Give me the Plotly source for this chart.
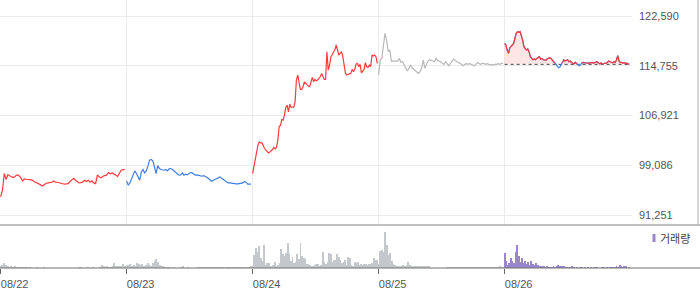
import numpy as np
import plotly.graph_objects as go

# ---------------- data ----------------
day_labels = ["08/22", "08/23", "08/24", "08/25", "08/26"]
y_ticks = [91251, 99086, 106921, 114755, 122590]
prev_close_0826 = 114975

price_0822 = [94100, 95150, 97780, 96830, 97620, 97360, 97250, 97150, 97410, 97570, 97460, 97150,
              96620, 96940, 96880, 96830, 96880, 96780, 96620, 96360, 96310, 96150, 95990, 95830,
              96040, 96250, 96310, 96360, 96410, 96620, 96410, 96410, 96310, 96310, 96100, 96100,
              96150, 96200, 96520, 96730, 97040, 96730, 96520, 96310, 96360, 96460, 96730, 96520,
              96730, 96410, 96620, 96310, 96200, 97570, 97250, 97100, 97360, 97410, 97520, 97940,
              97730, 97880, 97780, 97570, 97300, 97780, 98300, 98410, 98410]
price_0823 = [96620, 95940, 96310, 96990, 97520, 98200, 97780, 97150, 96730, 98040, 98410, 97880,
              98200, 98940, 99880, 99990, 99780, 98830, 97780, 99040, 98570, 98410, 98300, 98300,
              98410, 98200, 98510, 98570, 98410, 98200, 97880, 97670, 97520, 97570, 97880, 97520,
              97670, 97570, 97780, 97940, 97880, 97620, 97520, 97570, 97460, 97460, 97360, 97460,
              97360, 97200, 96990, 96730, 96570, 96730, 96830, 96940, 97100, 97250, 97040, 96830,
              96620, 96410, 96310, 96310, 96250, 96200, 96150, 96150, 96150, 96200, 96310, 96310,
              96520, 96410, 96100, 96100, 96100]
price_0824 = [97780, 98830, 100400, 101460, 102250, 102770, 102610, 102610, 102090, 101720, 101460,
              101190, 101040, 101190, 101350, 101560, 101880, 101670, 101880, 103030, 105140, 105400,
              106290, 106190, 106980, 108190, 108550, 107500, 108710, 108190, 108290, 108190, 109080,
              112500, 113290, 111970, 111030, 111030, 111450, 112230, 111970, 111710, 111550, 111450,
              112230, 112920, 112230, 112600, 112390, 112500, 112760, 113020, 113550, 113020, 112600,
              112600, 116970, 114070, 114860, 116180, 116440, 116970, 117230, 118020, 117120, 116440,
              116700, 116970, 116180, 115130, 113550, 113290, 113390, 113440, 113550, 114180, 113810,
              114180, 115020, 115130, 114600, 114970, 113650, 113920, 114180, 115230, 114600, 114490,
              114860, 114600, 116440, 116280, 116440, 116180, 115130]
price_0825 = [113290, 115650, 115910, 118020, 119860, 118810, 116970, 117230, 115490, 115490, 115490,
              115390, 115490, 115910, 115280, 115390, 114970, 114340, 113920, 114340, 114860, 114440,
              114230, 114020, 113810, 113550, 113810, 114440, 115650, 114340, 114970, 115490, 115700,
              115600, 115490, 115390, 115910, 115600, 115490, 115280, 115130, 114970, 115390, 114970,
              114760, 115130, 115490, 115810, 115600, 115490, 115280, 115130, 114970, 114760, 114970,
              115070, 114970, 115130, 114970, 114860, 114760, 114970, 115280, 115130, 114970, 115130,
              115130, 114970, 115070, 114970, 114860, 114970, 114860, 115020, 114970, 115070, 114970,
              115130, 115130]
price_0826 = [118280, 118020, 117230, 116700, 117600, 117910, 118020, 118280, 119070, 119860, 120120,
              120020, 120120, 119590, 118810, 117750, 117490, 117230, 117390, 116970, 116180, 115910,
              115700, 115810, 115700, 115910, 116020, 116180, 115810, 115910, 115700, 115700, 115600,
              115810, 115910, 116020, 115910, 115700, 115490, 115180, 114970, 114650, 114440, 114550,
              114860, 115280, 115700, 115490, 115600, 115700, 115390, 115490, 115280, 115180, 115070,
              115280, 115070, 114970, 114760, 114860, 115180, 115280, 115230, 115180, 115230, 115180,
              115180, 115280, 115280, 115180, 115280, 115280, 115390, 115180, 115070, 115180, 115020,
              115070, 115180, 115130, 115390, 115490, 115390, 115280, 115230, 115390, 115280, 115700,
              116330, 115490, 115280, 115280, 115180, 115230, 115130, 115180, 115020, 115020]

vol_0822 = [6, 10, 15, 10, 5, 3, 4, 3, 4, 3, 3, 3, 3, 2, 3, 2, 0, 2, 0, 0, 0, 2, 0, 0, 0, 2, 0, 0,
            0, 0, 0, 0, 0, 0, 0, 0, 0, 0, 0, 0, 0, 0, 0, 0, 0, 2, 2, 0, 0, 0, 1, 0, 0, 2, 0, 0,
            0, 2, 8, 4, 3, 5, 3, 3, 5, 14, 5, 4, 4, 6, 13, 6]
vol_0823 = [10, 8, 12, 5, 8, 5, 15, 12, 10, 12, 5, 10, 15, 8, 5, 14, 22, 28, 18, 8, 5, 4, 3, 3,
            2, 2, 0, 2, 0, 0, 0, 3, 4, 0, 0, 2, 0, 0, 0, 0, 0, 2, 2, 3, 2, 2, 3, 3, 2, 2, 2, 2,
            2, 3, 2, 2, 0, 3, 2, 2, 2, 3, 2, 2, 2, 3, 2, 2, 0, 3, 2, 5]
vol_0824 = [5, 40, 61, 47, 67, 31, 22, 70, 10, 14, 15, 5, 5, 10, 19, 5, 9, 15, 57, 43, 37, 44, 76,
            42, 22, 34, 15, 17, 43, 27, 76, 37, 31, 27, 13, 13, 10, 5, 7, 10, 13, 13, 7, 10, 49,
            17, 12, 17, 45, 43, 17, 25, 23, 43, 32, 23, 15, 17, 23, 10, 33, 31, 10, 7, 17, 14, 17,
            9, 13, 9, 13, 13, 9, 13, 13, 15, 31, 23, 23]
vol_0825 = [12, 50, 54, 48, 109, 70, 40, 45, 20, 12, 8, 6, 5, 6, 5, 8, 6, 10, 18, 8, 6, 5, 5, 5,
            5, 4, 6, 5, 5, 4, 5, 6, 0, 0, 0, 0, 0, 0, 0, 0, 0, 0, 3, 3, 3, 2, 3, 3, 2, 2, 3, 3,
            3, 3, 2, 3, 3, 3, 3, 3, 3, 3, 3, 3, 3, 3, 3, 3, 3, 3, 3, 3, 3, 3, 6, 3, 3]
vol_0826 = [45, 22, 10, 15, 30, 20, 15, 48, 70, 35, 18, 30, 15, 22, 12, 18, 10, 20, 12, 8, 15, 8,
            5, 5, 5, 4, 3, 4, 3, 3, 3, 4, 3, 5, 8, 6, 5, 4, 6, 3, 3, 3, 3, 4, 3, 0, 3, 0, 2, 2,
            0, 3, 0, 3, 0, 2, 0, 3, 3, 2, 0, 0, 2, 3, 0, 3, 0, 3, 3, 3, 2, 4, 3, 10, 5, 3, 5, 4,
            0, 3]

# ---------------- styling ----------------
RED = "#ff3b3b"
BLUE = "#3d7fe0"
GRAY_LINE = "#b8b8b8"
VOL_GRAY = "#c4c7cb"
VOL_PURPLE = "#9a86cc"
GRID = "#ebebeb"

W, H = 700, 289
PLOT_R = 632          # right edge of plot area (px)
VOL_BOTTOM = 268      # baseline of volume panel (px)
MAIN_BOTTOM = 225     # bottom of price panel (px)
VOL_TOP = 226

prices = [price_0822, price_0823, price_0824, price_0825, price_0826]
vols = [vol_0822, vol_0823, vol_0824, vol_0825, vol_0826]
day_colors = [RED, BLUE, RED, GRAY_LINE, None]


def day_x(d, n):
    return d + np.arange(n) / n


fig = go.Figure()

# price lines days 1-4
for d in range(4):
    v = prices[d]
    fig.add_trace(go.Scatter(x=day_x(d, len(v)), y=v, mode="lines",
                             line=dict(color=day_colors[d], width=1.2),
                             xaxis="x", yaxis="y", showlegend=False, hoverinfo="skip"))

# day 5: fill vs previous close, red above / blue below
v5 = np.array(price_0826, dtype=float)
x5 = day_x(4, len(v5))
ref = np.full(len(v5), prev_close_0826, dtype=float)
fig.add_trace(go.Scatter(x=x5, y=ref, mode="lines", line=dict(width=0, color="rgba(0,0,0,0)"),
                         xaxis="x", yaxis="y", showlegend=False, hoverinfo="skip"))
fig.add_trace(go.Scatter(x=x5, y=np.maximum(v5, ref), mode="lines", fill="tonexty",
                         fillcolor="rgba(255,80,80,0.14)", line=dict(width=0, color="rgba(0,0,0,0)"),
                         xaxis="x", yaxis="y", showlegend=False, hoverinfo="skip"))
fig.add_trace(go.Scatter(x=[x5[0], x5[-1] + 1 / len(v5)], y=[prev_close_0826, prev_close_0826],
                         mode="lines", line=dict(color="#444444", width=1, dash="dot"),
                         xaxis="x", yaxis="y", showlegend=False, hoverinfo="skip"))
fig.add_trace(go.Scatter(x=x5, y=v5, mode="lines", line=dict(color=BLUE, width=1.2),
                         xaxis="x", yaxis="y", showlegend=False, hoverinfo="skip"))
red5 = np.where(v5 >= prev_close_0826, v5, np.nan)
fig.add_trace(go.Scatter(x=x5, y=red5, mode="lines", line=dict(color=RED, width=1.2),
                         connectgaps=False, xaxis="x", yaxis="y", showlegend=False, hoverinfo="skip"))

# volume bars
bar_w = 0.9 / 126
gx, gy = [], []
for d in range(4):
    gx.extend(day_x(d, len(vols[d])))
    gy.extend(vols[d])
fig.add_trace(go.Bar(x=gx, y=gy, width=bar_w, marker=dict(color=VOL_GRAY, line=dict(width=0)),
                     xaxis="x2", yaxis="y2", showlegend=False, hoverinfo="skip"))
fig.add_trace(go.Bar(x=day_x(4, len(vol_0826)), y=vol_0826, width=bar_w,
                     marker=dict(color=VOL_PURPLE, line=dict(width=0)),
                     xaxis="x2", yaxis="y2", showlegend=False, hoverinfo="skip"))

plot_h = VOL_BOTTOM
main_dom = [(VOL_BOTTOM - MAIN_BOTTOM) / plot_h, 1]
vol_dom = [0, (VOL_BOTTOM - VOL_TOP) / plot_h]
xr = [-0.005, -0.005 + PLOT_R / 126]

# y range so that 122590 sits at px 16 and 91251 at px ~215
px_per_unit = (215 - 16) / (122590 - 91251)
y_top = 122590 + 16 / px_per_unit
y_bot = 122590 - (MAIN_BOTTOM - 16) / px_per_unit

tickfont = dict(family="Liberation Sans, Arial, sans-serif", size=11, color="#555555")

fig.update_layout(
    width=W, height=H,
    margin=dict(l=0, r=W - PLOT_R, t=0, b=H - VOL_BOTTOM),
    paper_bgcolor="white", plot_bgcolor="white",
    showlegend=False, hovermode=False, bargap=0,
    xaxis=dict(domain=[0, 1], range=xr, anchor="y", tickvals=list(range(5)),
               showticklabels=False, showgrid=True, gridcolor=GRID, gridwidth=1,
               zeroline=False, showline=False, ticks=""),
    yaxis=dict(domain=main_dom, range=[y_bot, y_top], side="right", tickvals=y_ticks,
               tickformat=",", showgrid=True, gridcolor=GRID, gridwidth=1, zeroline=False,
               showline=False, ticks="", tickfont=tickfont, ticklabelstandoff=6),
    xaxis2=dict(domain=[0, 1], range=xr, anchor="y2", matches="x", tickvals=list(range(5)),
                ticktext=day_labels, ticks="outside", ticklen=5, tickwidth=1, tickcolor="#666666",
                showgrid=False, zeroline=False, showline=False, tickfont=tickfont,
                ticklabelshift=14, ticklabelstandoff=1),
    yaxis2=dict(domain=vol_dom, range=[0, 126], visible=False, fixedrange=True),
)

# frame lines
main_sep = (VOL_BOTTOM - MAIN_BOTTOM) / plot_h
fig.add_shape(type="line", xref="paper", yref="paper", x0=0, x1=W / PLOT_R, y0=main_sep, y1=main_sep,
              line=dict(color="#808080", width=1))
fig.add_shape(type="line", xref="paper", yref="paper", x0=0, x1=W / PLOT_R, y0=0, y1=0,
              line=dict(color="#707070", width=1))
fig.add_shape(type="line", xref="paper", yref="paper", x0=698 / PLOT_R, x1=698 / PLOT_R,
              y0=main_sep, y1=1, line=dict(color="#b0b0b0", width=1))

# volume legend
fig.add_shape(type="rect", xref="paper", yref="paper", x0=652.5 / PLOT_R, x1=655.5 / PLOT_R,
              y0=(VOL_BOTTOM - 242) / plot_h, y1=(VOL_BOTTOM - 234) / plot_h,
              fillcolor=VOL_PURPLE, line=dict(width=0))
fig.add_annotation(text="거래량", xref="paper", yref="paper", x=657.5 / PLOT_R,
                   y=(VOL_BOTTOM - 238) / plot_h, xanchor="left", yanchor="middle", showarrow=False,
                   font=dict(family="Noto Sans CJK KR", size=11, color="#444444"))

fig.write_html("out.html", config={"displayModeBar": False})
